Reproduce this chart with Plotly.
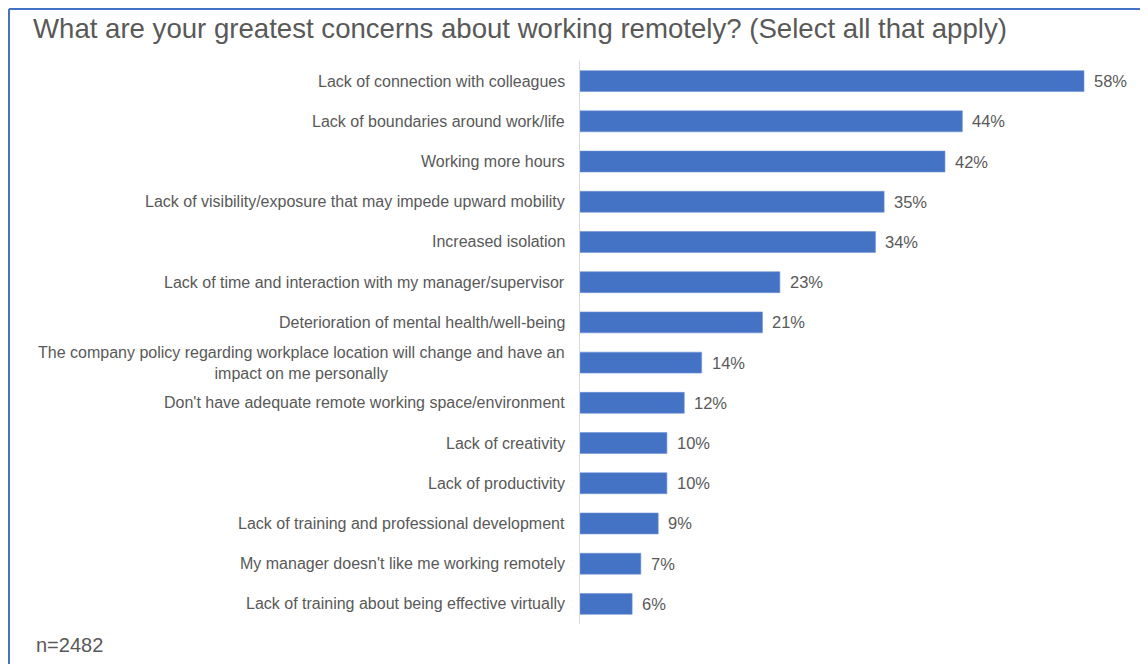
import plotly.graph_objects as go

categories = [
    "Lack of connection with colleagues",
    "Lack of boundaries around work/life",
    "Working more hours",
    "Lack of visibility/exposure that may impede upward mobility",
    "Increased isolation",
    "Lack of time and interaction with my manager/supervisor",
    "Deterioration of mental health/well-being",
    "The company policy regarding workplace location will change and have an<br>impact on me personally",
    "Don't have adequate remote working space/environment",
    "Lack of creativity",
    "Lack of productivity",
    "Lack of training and professional development",
    "My manager doesn't like me working remotely",
    "Lack of training about being effective virtually",
]
values = [58, 44, 42, 35, 34, 23, 21, 14, 12, 10, 10, 9, 7, 6]

title_text = "What are your greatest concerns about working remotely? (Select all that apply)"
note_text = "n=2482"

# page body has an 8px margin; figure is sized / positioned to compensate
OFF = 8
W, H = 1148 - OFF, 664 - OFF
ML, MR, MT, MB = 580 - OFF, 8, 61 - OFF, 40
PW, PH = W - ML - MR, H - MT - MB
PX_PER_UNIT = 504 / 58.0

def px_x(px):
    # px given in window (reference) coordinates
    return (px - OFF - ML) / PW

def px_y(py):
    return (H - MB - (py - OFF)) / PH

FONT = "Arial, 'Liberation Sans', sans-serif"
GREY = "#595959"
BLUE = "#4472C4"

fig = go.Figure()
fig.add_trace(go.Bar(
    orientation="h",
    y=categories,
    x=values,
    width=0.52,
    marker=dict(color=BLUE, line=dict(color="#6f93d6", width=0.6)),
    hoverinfo="x+y",
))

annotations = []
for c, v in zip(categories, values):
    annotations.append(dict(
        xref="paper", x=0, yref="y", y=c, text=c,
        xanchor="right", yanchor="middle", xshift=-13, align="center",
        showarrow=False, font=dict(family=FONT, size=16, color=GREY),
    ))
    annotations.append(dict(
        xref="x", x=v, yref="y", y=c, text=f"{v}%",
        xanchor="left", yanchor="middle", xshift=8,
        showarrow=False, font=dict(family=FONT, size=16.5, color=GREY),
    ))

annotations.append(dict(
    xref="paper", yref="paper", x=px_x(34), y=px_y(645), text=note_text,
    xanchor="left", yanchor="middle", showarrow=False,
    font=dict(family=FONT, size=20, color=GREY),
))

shapes = [
    dict(type="line", xref="paper", yref="paper",
         x0=px_x(9), x1=px_x(1170), y0=px_y(9), y1=px_y(9),
         line=dict(color=BLUE, width=2)),
    dict(type="line", xref="paper", yref="paper",
         x0=px_x(9), x1=px_x(9), y0=px_y(9), y1=px_y(680),
         line=dict(color=BLUE, width=2)),
]

fig.update_layout(
    width=W, height=H,
    margin=dict(l=ML, r=MR, t=MT, b=MB, pad=0),
    paper_bgcolor="white", plot_bgcolor="white",
    showlegend=False,
    title=dict(text=title_text, xref="container", yref="container",
               x=(33 - OFF) / W, y=1 - (28 - OFF) / H,
               xanchor="left", yanchor="middle",
               font=dict(family=FONT, size=27.6, color=GREY)),
    xaxis=dict(range=[0, PW / PX_PER_UNIT], showgrid=False, zeroline=False,
               showticklabels=False, ticks="", showline=False, fixedrange=True),
    yaxis=dict(autorange="reversed", showticklabels=False, ticks="",
               showgrid=False, zeroline=False, showline=True,
               linecolor="#d9d9d9", linewidth=1, fixedrange=True),
    annotations=annotations,
    shapes=shapes,
    bargap=0.48,
)

fig.write_html("out.html")
